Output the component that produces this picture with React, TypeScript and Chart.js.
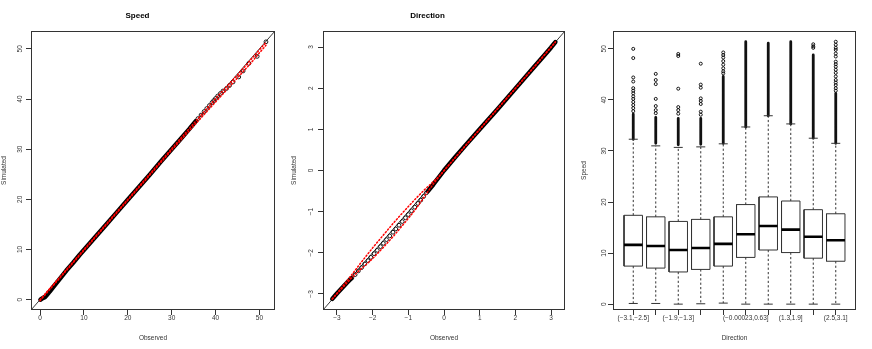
import React, { useEffect, useRef } from "react";
import { Chart, registerables } from "chart.js";
Chart.register(...registerables);

const FONT = "'Liberation Sans', Arial, sans-serif";

// ---------- Speed Q-Q ----------
const speedObs = [0.1, 0.6, 1.1, 1.6, 2.2, 3.0, 4.0, 5.0, 6.0, 7.5, 9.0, 11.0, 13.0, 15.0, 17.5, 20.0, 22.5, 25.0, 27.5, 30.0, 32.0, 34.0, 35.5];
const speedSim = [0.0, 0.3, 0.5, 1.0, 1.6, 2.5, 3.6, 4.7, 5.8, 7.3, 8.9, 10.9, 12.9, 14.9, 17.4, 19.9, 22.4, 24.9, 27.5, 30.0, 32.0, 34.0, 35.6];
const speedTailObs = [36.0, 36.7, 37.4, 38.0, 38.6, 39.2, 39.6, 40.0, 40.5, 41.1, 41.7, 42.5, 43.2, 44.0, 45.3, 46.3, 47.6, 49.5, 51.5];
const speedTailSim = [36.1, 36.8, 37.5, 38.1, 38.7, 39.3, 39.7, 40.1, 40.6, 41.1, 41.6, 42.1, 42.7, 43.4, 44.4, 45.6, 47.1, 48.5, 51.4];
const speedBandHiObs = [0, 10, 20, 30, 40, 45, 51.5];
const speedBandHiSim = [0, 10, 20, 30.1, 40.1, 44.8, 51.3];
const speedBandLoObs = [0, 10, 20, 30, 35, 40, 45, 48, 50.2, 51.5];
const speedBandLoSim = [-0.2, 9.8, 19.8, 29.8, 34.6, 39.4, 44.2, 47.1, 49.4, 50.7];
const speedTicks = [0, 10, 20, 30, 40, 50];

// ---------- Direction Q-Q ----------
const dirLowObs = [-3.13, -3.0, -2.85, -2.7, -2.6];
const dirLowSim = [-3.12, -2.99, -2.85, -2.71, -2.62];
const dirMidObs = [-2.58, -2.49, -2.40, -2.31, -2.22, -2.13, -2.05, -1.96, -1.87, -1.78, -1.70, -1.61, -1.52, -1.43, -1.35, -1.26, -1.17, -1.08, -1.00, -0.91, -0.82, -0.73, -0.65, -0.57, -0.49];
const dirMidSim = [-2.61, -2.53, -2.44, -2.36, -2.27, -2.19, -2.11, -2.02, -1.94, -1.85, -1.77, -1.68, -1.59, -1.50, -1.42, -1.33, -1.24, -1.15, -1.07, -0.98, -0.89, -0.80, -0.72, -0.63, -0.54];
const dirHighObs = [-0.45, -0.3, -0.15, 0.0, 0.3, 0.6, 1.0, 1.5, 2.0, 2.5, 2.8, 3.0, 3.12];
const dirHighSim = [-0.5, -0.34, -0.17, 0.0, 0.31, 0.61, 1.0, 1.49, 1.99, 2.49, 2.79, 2.99, 3.12];
const dirBandHiObs = [-3.13, -2.9, -2.6, -2.3, -2.0, -1.7, -1.4, -1.1, -0.8, -0.55, -0.35, -0.15, 0.5, 1.5, 2.5, 3.12];
const dirBandHiSim = [-3.12, -2.88, -2.55, -2.21, -1.88, -1.57, -1.26, -0.97, -0.69, -0.47, -0.31, -0.15, 0.5, 1.5, 2.49, 3.12];
const dirBandLoObs = [-3.13, -2.6, -2.4, -2.2, -2.0, -1.7, -1.4, -1.1, -0.8, -0.6, -0.45, -0.3, -0.1, 0.5, 1.5, 2.5, 3.12];
const dirBandLoSim = [-3.12, -2.62, -2.45, -2.3, -2.14, -1.87, -1.58, -1.27, -0.95, -0.7, -0.51, -0.33, -0.11, 0.5, 1.5, 2.49, 3.12];
const dirTicks = [-3, -2, -1, 0, 1, 2, 3];

// ---------- Speed by Direction boxplot ----------
const dirBins = ["(\u22123.1,\u22122.5]", "(\u22122.5,\u22121.9]", "(\u22121.9,\u22121.3]", "(\u22121.3,\u22120.63]", "(\u22120.63,\u22120.00023]", "(\u22120.00023,0.63]", "(0.63,1.3]", "(1.3,1.9]", "(1.9,2.5]", "(2.5,3.1]"];
const binLabelShown = [true, false, true, false, false, true, false, true, false, true];
const boxLower = [0.13, 0.13, 0.0, 0.07, 0.2, 0.0, 0.0, 0.0, 0.0, 0.0];
const boxQ1 = [7.45, 7.06, 6.3, 6.8, 7.45, 9.15, 10.6, 10.1, 9.0, 8.4];
const boxMedian = [11.6, 11.4, 10.6, 11.0, 11.8, 13.7, 15.3, 14.6, 13.2, 12.5];
const boxQ3 = [17.4, 17.1, 16.2, 16.6, 17.1, 19.5, 21.0, 20.2, 18.5, 17.7];
const boxUpper = [32.3, 31.0, 30.7, 30.8, 31.4, 34.7, 36.9, 35.3, 32.5, 31.5];
const outlierPoints = [
  [50.0, 48.2, 44.4, 43.6, 42.3, 41.8, 41.3, 40.7, 40.2, 39.6, 39.0, 38.4, 37.8],
  [45.1, 43.9, 43.1, 40.2, 38.8, 38.0, 37.4],
  [49.0, 48.6, 42.2, 38.6, 38.0, 37.3],
  [47.1, 43.0, 42.4, 40.3, 39.8, 39.2, 37.7, 37.1],
  [49.3, 48.8, 48.3, 47.6, 46.9, 46.2, 45.6, 45.2],
  [],
  [],
  [],
  [50.9, 50.5, 50.2],
  [51.4, 50.8, 50.2, 49.8, 49.1, 48.5, 47.5, 47.0, 46.5, 45.9, 45.3, 44.6, 43.9, 43.4, 42.9, 42.3, 41.8],
];
const outlierRuns = [
  [[32.3, 37.2]],
  [[31.5, 36.6]],
  [[31.2, 36.4]],
  [[31.3, 36.4]],
  [[31.5, 44.6]],
  [[34.7, 51.4]],
  [[36.9, 51.1]],
  [[35.3, 51.4]],
  [[32.5, 48.8]],
  [[31.5, 41.3]],
];
const boxTicks = [1, 2, 3, 4, 5, 6, 7, 8, 9, 10];

const pts = (xs: number[], ys: number[]) => xs.map((x, i) => ({ x, y: ys[i] }));
const minus = (v: number) => (v < 0 ? "\u2212" + Math.abs(v) : String(v));
const INK = "#333";

const framePlugin = {
  id: "frame",
  afterDatasetsDraw(chart: any) {
    const { ctx, chartArea: a } = chart;
    ctx.save();
    ctx.strokeStyle = INK;
    ctx.lineWidth = 1;
    const l = Math.round(a.left) + 0.5, t = Math.round(a.top) + 0.5;
    const r = Math.round(a.right) - 0.5, b = Math.round(a.bottom) - 0.5;
    ctx.strokeRect(l, t, r - l, b - t);
    ctx.restore();
  },
};

function axis(o: any) {
  const isY = o.axis === "y";
  return {
    type: "linear",
    position: isY ? "left" : "bottom",
    min: o.min,
    max: o.max,
    afterBuildTicks: (s: any) => {
      s.ticks = o.ticks.map((v: number) => ({ value: v }));
    },
    afterFit: (s: any) => {
      if (isY) s.width = o.size;
      else s.height = o.size;
    },
    grid: { display: true, drawOnChartArea: false, drawTicks: true, tickLength: 5, tickColor: INK, color: INK, tickWidth: 1 },
    border: { display: false },
    ticks: {
      font: { family: FONT, size: 6.5 },
      color: INK,
      padding: o.pad,
      autoSkip: false,
      minRotation: isY ? 90 : 0,
      maxRotation: isY ? 90 : 0,
      crossAlign: "center",
      callback: o.cb,
    },
    title: {
      display: true,
      text: o.title,
      font: { family: FONT, size: 6.5 },
      color: INK,
      padding: isY ? { top: 0, bottom: 0 } : { top: 0, bottom: 7 },
    },
  };
}

function lineDs(data: any[], color: string, width: number, extra: any = {}) {
  return {
    data,
    showLine: true,
    borderColor: color,
    borderWidth: width,
    pointRadius: 0,
    pointHoverRadius: 0,
    fill: false,
    spanGaps: false,
    ...extra,
  };
}
function circleDs(data: any[], r: number, extra: any = {}) {
  return {
    data,
    showLine: false,
    pointRadius: r,
    pointHoverRadius: r,
    pointBorderWidth: 0.9,
    pointBorderColor: "#000",
    pointBackgroundColor: "rgba(0,0,0,0)",
    ...extra,
  };
}
const redDot = { borderDash: [1.2, 2.2], borderCapStyle: "round" };

function baseOptions(xs: any, ys: any, title: string | null, right: number) {
  return {
    responsive: false,
    animation: false,
    devicePixelRatio: 1,
    events: [],
    layout: { padding: { left: 0, right, top: title ? 0 : 31, bottom: 0 } },
    plugins: {
      legend: { display: false },
      tooltip: { enabled: false },
      title: title
        ? { display: true, text: title, color: "#000", font: { family: FONT, size: 8, weight: "bold" }, padding: { top: 11, bottom: 10.4 } }
        : { display: false },
    },
    scales: { x: xs, y: ys },
  };
}

function speedConfig(): any {
  const lim = [-2.06, 53.56];
  return {
    type: "scatter",
    data: {
      datasets: [
        lineDs(pts(speedBandHiObs, speedBandHiSim), "#ff0000", 1.5, { ...redDot, order: 0 }),
        lineDs(pts(speedBandLoObs, speedBandLoSim), "#ff0000", 1.5, { ...redDot, order: 1 }),
        circleDs(pts(speedTailObs, speedTailSim), 1.9, { order: 2 }),
        lineDs(pts(speedObs, speedSim), "#000", 4.5, { borderCapStyle: "round", borderJoinStyle: "round", order: 3 }),
        lineDs(pts(lim, lim), "#222", 0.9, { order: 4 }),
      ],
    },
    options: baseOptions(
      axis({ axis: "x", min: lim[0], max: lim[1], ticks: speedTicks, size: 39, pad: 3, title: "Observed", cb: (v: number) => minus(v) }),
      axis({ axis: "y", min: lim[0], max: lim[1], ticks: speedTicks, size: 31, pad: 2.4, title: "Simulated", cb: (v: number) => minus(v) }),
      "Speed",
      15
    ),
    plugins: [framePlugin],
  };
}

function directionConfig(): any {
  const lim = [-3.39, 3.39];
  return {
    type: "scatter",
    data: {
      datasets: [
        lineDs(pts(dirBandHiObs, dirBandHiSim), "#ff0000", 1.5, { ...redDot, order: 0 }),
        lineDs(pts(dirBandLoObs, dirBandLoSim), "#ff0000", 1.5, { ...redDot, order: 1 }),
        circleDs(pts(dirMidObs, dirMidSim), 1.9, { order: 2 }),
        lineDs(pts(dirLowObs, dirLowSim), "#000", 4.5, { borderCapStyle: "round", borderJoinStyle: "round", order: 3 }),
        lineDs(pts(dirHighObs, dirHighSim), "#000", 4.5, { borderCapStyle: "round", borderJoinStyle: "round", order: 3 }),
        lineDs(pts(lim, lim), "#222", 0.9, { order: 4 }),
      ],
    },
    options: baseOptions(
      axis({ axis: "x", min: lim[0], max: lim[1], ticks: dirTicks, size: 39, pad: 3, title: "Observed", cb: (v: number) => minus(v) }),
      axis({ axis: "y", min: lim[0], max: lim[1], ticks: dirTicks, size: 33, pad: 3.3, title: "Simulated", cb: (v: number) => minus(v) }),
      "Direction",
      15
    ),
    plugins: [framePlugin],
  };
}

function boxConfig(): any {
  const HW = 0.41, CW = 0.2;
  const gap = (x: number) => ({ x, y: null });
  const boxes: any[] = [], medians: any[] = [], whiskers: any[] = [], caps: any[] = [], runs: any[] = [], outs: any[] = [];
  boxQ1.forEach((q1, i) => {
    const x = i + 1;
    const q3 = boxQ3[i];
    const m = boxMedian[i];
    boxes.push({ x: x - HW, y: q1 }, { x: x + HW, y: q1 }, { x: x + HW, y: q3 }, { x: x - HW, y: q3 }, { x: x - HW, y: q1 }, gap(x));
    medians.push({ x: x - HW, y: m }, { x: x + HW, y: m }, gap(x));
    whiskers.push({ x, y: q3 }, { x, y: boxUpper[i] }, gap(x), { x, y: q1 }, { x, y: boxLower[i] }, gap(x));
    caps.push({ x: x - CW, y: boxUpper[i] }, { x: x + CW, y: boxUpper[i] }, gap(x), { x: x - CW, y: boxLower[i] }, { x: x + CW, y: boxLower[i] }, gap(x));
    outlierRuns[i].forEach(([a, b]) => runs.push({ x, y: a }, { x, y: b }, gap(x)));
    outlierPoints[i].forEach((v) => outs.push({ x, y: v }));
  });
  return {
    type: "scatter",
    data: {
      datasets: [
        lineDs(medians, "#000", 2.6, { order: 0 }),
        lineDs(boxes, INK, 1, { borderJoinStyle: "miter", order: 1 }),
        lineDs(caps, INK, 1, { order: 2 }),
        lineDs(whiskers, INK, 1, { borderDash: [2.2, 2.2], order: 3 }),
        lineDs(runs, "#111", 2.8, { borderCapStyle: "round", order: 4 }),
        circleDs(outs, 1.5, { order: 5 }),
      ],
    },
    options: baseOptions(
      axis({ axis: "x", min: 0.1, max: 10.9, ticks: boxTicks, size: 39, pad: 3, title: "Direction", cb: (v: number, i: number) => (binLabelShown[i] ? dirBins[i] : "") }),
      axis({ axis: "y", min: -1.15, max: 53.5, ticks: speedTicks, size: 33, pad: 0, title: "Speed", cb: (v: number) => minus(v) }),
      null,
      16
    ),
    plugins: [framePlugin],
  };
}

function Panel({ left, width, make }: { left: number; width: number; make: () => any }) {
  const ref = useRef<HTMLCanvasElement | null>(null);
  useEffect(() => {
    const c = new Chart(ref.current as HTMLCanvasElement, make());
    return () => c.destroy();
  }, []);
  return (
    <canvas
      ref={ref}
      width={width}
      height={349}
      style={{ position: "absolute", left, top: 0, width, height: 349 }}
    />
  );
}

export default function App() {
  return (
    <div style={{ position: "fixed", left: 0, top: 0, width: 872, height: 349, background: "#fff", overflow: "hidden" }}>
      <Panel left={0} width={290} make={speedConfig} />
      <Panel left={290} width={290} make={directionConfig} />
      <Panel left={580} width={292} make={boxConfig} />
    </div>
  );
}
